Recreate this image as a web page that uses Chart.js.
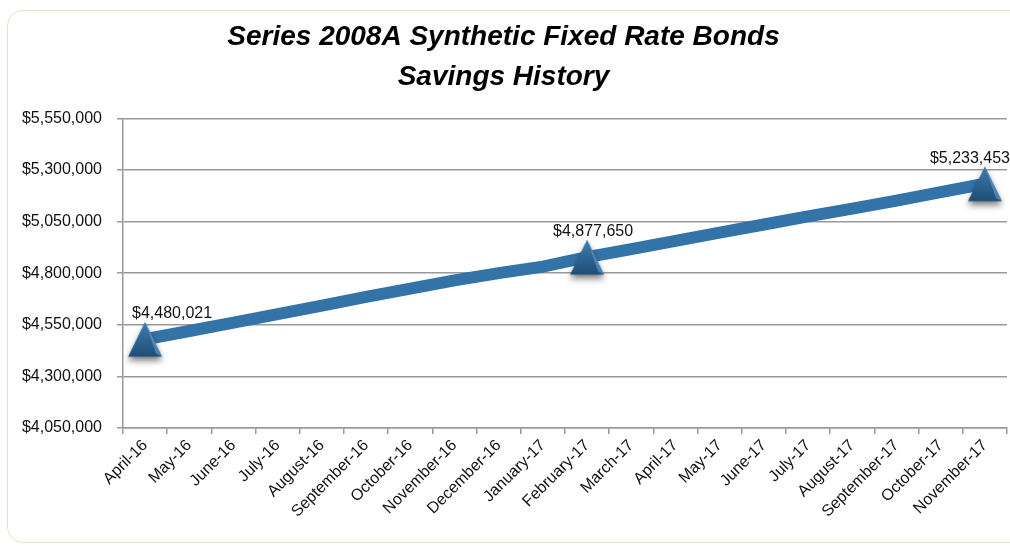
<!DOCTYPE html>
<html>
<head>
<meta charset="utf-8">
<script src="https://cdn.jsdelivr.net/npm/chart.js@4"></script>
<style>
    body { margin: 0; background: #fff; }
    #wrap { position: relative; width: 1010px; height: 546px; overflow: hidden; }
    #card {
        position: absolute; left: 7px; top: 10px; width: 1030px; height: 531px;
        border: 1.5px solid #ecdfc3; border-radius: 16px;
    }
    #chart { position: absolute; left: 0; top: 0; }
</style>
</head>
<body>
<div id="wrap">
    <div id="card"></div>
    <canvas id="chart" width="1010" height="546"></canvas>
</div>
<script>
// Months on the x axis
const months = [
    'April-16', 'May-16', 'June-16', 'July-16', 'August-16', 'September-16',
    'October-16', 'November-16', 'December-16', 'January-17', 'February-17',
    'March-17', 'April-17', 'May-17', 'June-17', 'July-17', 'August-17',
    'September-17', 'October-17', 'November-17'
];

// Savings (marked points are exact labels)
const savings = [
    4480021, 4520000, 4561000, 4602000, 4643000, 4685000,
    4725000, 4765000, 4800000, 4832000, 4877650,
    4917000, 4957000, 4997000, 5036000, 5075000, 5113000,
    5152000, 5193000, 5233453
];

// Months that carry a triangle marker and a value label
const markedMonths = ['April-16', 'February-17', 'November-17'];

// y axis range
const yMin = 4050000;
const yMax = 5550000;
const yStep = 250000;

const titleLines = ['Series 2008A Synthetic Fixed Rate Bonds', 'Savings History'];

const currency = new Intl.NumberFormat('en-US', {
    style: 'currency',
    currency: 'USD',
    maximumFractionDigits: 0
});

// Triangle marker drawn once on a small canvas
function makeMarker() {
    const c = document.createElement('canvas');
    c.width = 48;
    c.height = 58;
    const g = c.getContext('2d');
    const top = 11.5, bottom = 46.5, cx = 24, half = 17;

    g.save();
    g.shadowColor = 'rgba(0,0,0,0.5)';
    g.shadowBlur = 6;
    g.shadowOffsetY = 4;
    const grad = g.createLinearGradient(0, top, 0, bottom);
    grad.addColorStop(0, '#3f7db2');
    grad.addColorStop(1, '#1f4d77');
    g.fillStyle = grad;
    g.beginPath();
    g.moveTo(cx, top);
    g.lineTo(cx + half, bottom);
    g.lineTo(cx - half, bottom);
    g.closePath();
    g.fill();
    g.restore();

    // lighter right facet
    g.fillStyle = 'rgba(110,165,215,0.55)';
    g.beginPath();
    g.moveTo(cx, top);
    g.lineTo(cx + half, bottom);
    g.lineTo(cx + half - 6, bottom - 3);
    g.closePath();
    g.fill();
    return c;
}

const marker = makeMarker();

// Draws the value labels above the marked points
const valueLabels = {
    id: 'valueLabels',
    afterDatasetsDraw(chart) {
        const ctx = chart.ctx;
        const meta = chart.getDatasetMeta(0);
        const area = chart.chartArea;
        ctx.save();
        ctx.font = '16px "Liberation Sans", Arial, sans-serif';
        ctx.fillStyle = '#111';
        ctx.textBaseline = 'alphabetic';
        meta.data.forEach((pt, i) => {
            if (!markedMonths.includes(months[i])) return;
            const text = currency.format(savings[i]);
            const w = ctx.measureText(text).width;
            let left = pt.x - w / 2 + 6;
            if (left < area.left + 9) left = area.left + 9;
            if (left + w > chart.width) left = chart.width - w;
            ctx.fillText(text, left, pt.y - 21);
        });
        ctx.restore();
    }
};

const ctx = document.getElementById('chart');

new Chart(ctx, {
    type: 'line',
    data: {
        labels: months,
        datasets: [{
            data: savings,
            borderColor: '#3473a7',
            borderWidth: 12,
            tension: 0,
            fill: false,
            pointStyle: marker,
            pointRadius: (c) => markedMonths.includes(months[c.dataIndex]) ? 17 : 0,
            pointHoverRadius: (c) => markedMonths.includes(months[c.dataIndex]) ? 17 : 0
        }]
    },
    options: {
        responsive: false,
        animation: false,
        layout: {
            autoPadding: false,
            padding: { left: 0, right: 3, top: 0, bottom: 0 }
        },
        plugins: {
            legend: { display: false },
            tooltip: { enabled: false },
            title: {
                display: true,
                text: titleLines,
                color: '#000',
                font: { family: '"Liberation Sans", Arial, sans-serif', size: 28, weight: 'bold', style: 'italic', lineHeight: 1.4 },
                padding: { top: 18, bottom: 22 }
            }
        },
        scales: {
            x: {
                offset: true,
                grid: {
                    offset: true,
                    drawOnChartArea: false,
                    drawTicks: true,
                    tickLength: 6,
                    color: '#999',
                    lineWidth: 1.5
                },
                border: { display: true, color: '#999', width: 1.5 },
                ticks: {
                    autoSkip: false,
                    minRotation: 45,
                    maxRotation: 45,
                    padding: 2,
                    color: '#111',
                    font: { family: '"Liberation Sans", Arial, sans-serif', size: 16 }
                },
                afterFit: (s) => {
                    s.height = 118;
                    s.paddingLeft = 0;
                    s.paddingRight = 0;
                }
            },
            y: {
                min: yMin,
                max: yMax,
                grid: {
                    color: '#999',
                    lineWidth: 1.5,
                    tickLength: 6
                },
                border: { display: true, color: '#999', width: 1.5 },
                ticks: {
                    stepSize: yStep,
                    padding: 15,
                    color: '#111',
                    font: { family: '"Liberation Sans", Arial, sans-serif', size: 16 },
                    callback: (value) => currency.format(value)
                },
                afterFit: (s) => { s.width = 123; }
            }
        }
    },
    plugins: [valueLabels]
});
</script>
</body>
</html>
